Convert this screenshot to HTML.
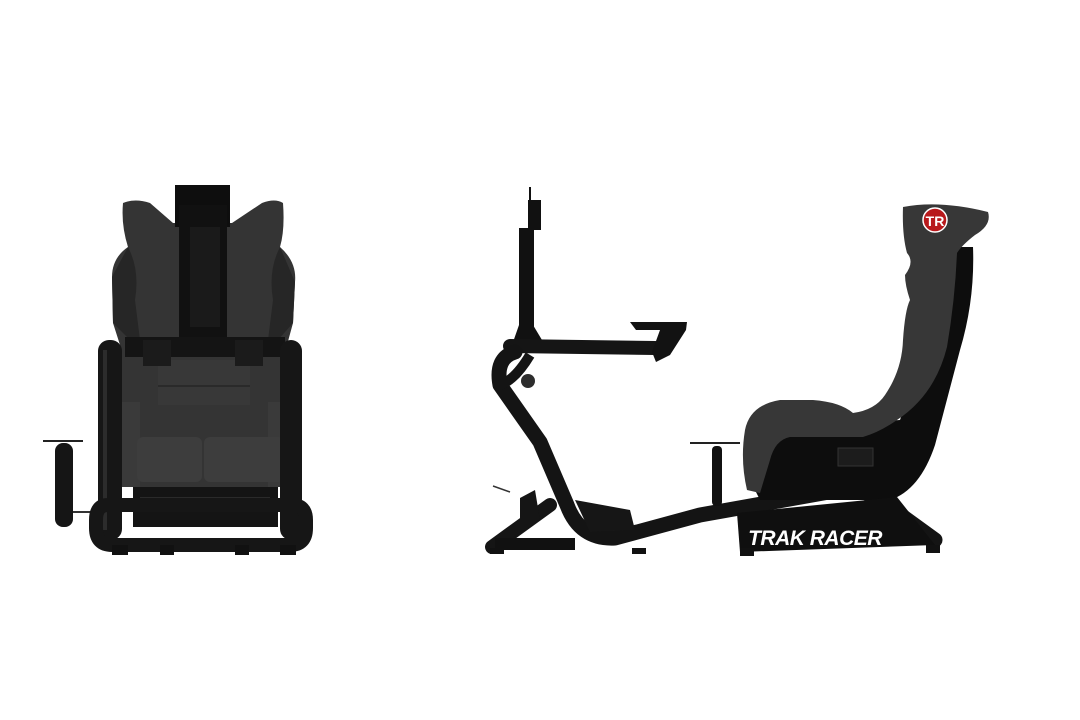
<!DOCTYPE html>
<html><head><meta charset="utf-8"><style>
html,body{margin:0;padding:0;background:#fff;width:1080px;height:720px;overflow:hidden}
svg{display:block}
</style></head><body>
<svg width="1080" height="720" viewBox="0 0 1080 720" xmlns="http://www.w3.org/2000/svg">
<!-- FRONT VIEW -->
<rect x="43" y="440" width="40" height="2" fill="#222"/>
<rect x="55" y="443" width="18" height="84" rx="8" fill="#151515"/>
<rect x="73" y="511" width="30" height="2" fill="#333"/>
<path d="M123,203 Q135,198 150,203 L173,223 L232,223 L262,203 Q275,198 283,203 Q285,230 280,247 Q297,262 295,282 L293,323 L287,345 L287,487 L120,487 L120,345 L113,323 L112,277 Q112,258 128,247 Q121,225 123,203 Z" fill="#343434"/>
<path d="M128,247 Q140,270 135,300 L140,340 L130,340 L113,323 L112,277 Z" fill="#262626"/>
<path d="M280,247 Q268,270 273,300 L268,340 L278,340 L293,323 L295,282 Z" fill="#262626"/>
<rect x="158" y="360" width="92" height="45" fill="#383838"/>
<rect x="158" y="385" width="92" height="2" fill="#2a2a2a"/>
<rect x="120" y="402" width="20" height="85" fill="#3a3a3a"/>
<rect x="268" y="402" width="19" height="85" fill="#3a3a3a"/>
<rect x="137" y="437" width="65" height="45" rx="6" fill="#3d3d3d"/>
<rect x="204" y="437" width="81" height="45" rx="6" fill="#3d3d3d"/>
<rect x="175" y="185" width="55" height="42" fill="#0e0e0e"/>
<rect x="179" y="205" width="48" height="132" fill="#111"/>
<rect x="190" y="227" width="30" height="100" fill="#1a1a1a"/>
<rect x="125" y="337" width="160" height="20" fill="#141414"/>
<rect x="143" y="340" width="28" height="26" fill="#1b1b1b"/>
<rect x="235" y="340" width="28" height="26" fill="#1b1b1b"/>
<rect x="133" y="487" width="145" height="40" fill="#141414"/>
<rect x="140" y="497" width="130" height="3" fill="#2a2a2a"/>
<rect x="98" y="340" width="24" height="200" rx="11" fill="#161616"/>
<rect x="103" y="350" width="4" height="180" fill="#2c2c2c"/>
<rect x="280" y="340" width="22" height="200" rx="11" fill="#161616"/>
<path d="M108,505 L292,505 Q306,505 306,520 L306,528 Q306,545 290,545 L112,545 Q96,545 96,528 L96,520 Q96,505 108,505 Z" fill="none" stroke="#161616" stroke-width="14"/>
<rect x="112" y="545" width="16" height="10" fill="#111"/>
<rect x="160" y="545" width="14" height="10" fill="#111"/>
<rect x="235" y="545" width="14" height="10" fill="#111"/>
<rect x="280" y="545" width="16" height="10" fill="#111"/>

<!-- SIDE VIEW -->
<rect x="529" y="187" width="2" height="20" fill="#111"/>
<rect x="528" y="200" width="13" height="30" fill="#111"/>
<rect x="519" y="228" width="15" height="115" fill="#111"/>
<path d="M519,325 L533,325 L545,345 L512,345 Z" fill="#111"/>
<path d="M510,346 L655,348" stroke="#151515" stroke-width="14" stroke-linecap="round" fill="none"/>
<path d="M630,322 L687,322 L686,330 L670,355 L656,362 L652,352 L660,330 L636,330 Z" fill="#121212"/>
<path d="M515,352 Q495,358 500,385 L540,442 L567,505 Q580,540 615,538 L700,515 L840,490 Q860,487 880,500 L935,540" stroke="#141414" stroke-width="15" stroke-linecap="round" stroke-linejoin="round" fill="none"/>
<path d="M500,385 Q515,380 530,355" stroke="#141414" stroke-width="10" fill="none"/>
<circle cx="528" cy="381" r="7" fill="#2d2d2d"/>
<path d="M492,547 L550,505" stroke="#151515" stroke-width="14" stroke-linecap="round"/>
<rect x="495" y="538" width="80" height="12" fill="#111"/>
<path d="M520,498 L535,490 L540,520 L520,520 Z" fill="#151515"/>
<path d="M575,500 L630,510 L635,530 L590,532 Z" fill="#161616"/>
<line x1="493" y1="486" x2="510" y2="492" stroke="#333" stroke-width="1.5"/>
<rect x="490" y="548" width="14" height="6" fill="#111"/>
<rect x="632" y="548" width="14" height="6" fill="#111"/>
<rect x="690" y="442" width="50" height="2" fill="#222"/>
<rect x="712" y="446" width="10" height="60" rx="4" fill="#111"/>
<path d="M958,247 L973,247 Q975,300 960,350 L935,445 Q920,490 890,500 L760,500 L745,470 L760,430 L900,420 Z" fill="#0d0d0d"/>
<path d="M903,207 Q940,200 988,212 Q992,225 975,235 Q962,245 957,253 Q955,300 947,347 Q935,395 897,420 Q880,432 863,437 L790,437 Q775,440 770,460 L760,493 L747,490 Q740,460 745,430 Q750,405 780,400 L813,400 Q840,402 853,413 Q875,410 885,395 Q902,370 903,340 Q905,310 910,300 Q905,285 905,275 Q915,262 907,253 Q902,235 903,207 Z" fill="#373737"/>
<rect x="838" y="448" width="35" height="18" fill="#1c1c1c" stroke="#333" stroke-width="1"/>
<circle cx="935" cy="220" r="12" fill="#b8191c" stroke="#fff" stroke-width="1.5"/>
<text x="935" y="226" font-family="Liberation Sans, sans-serif" font-size="14" font-weight="bold" fill="#fff" text-anchor="middle">TR</text>
<path d="M737,513 L897,497 L935,545 L740,552 Z" fill="#0f0f0f"/>
<text x="815" y="545" font-family="Liberation Sans, sans-serif" font-size="21" font-weight="bold" font-style="italic" fill="#fff" text-anchor="middle" letter-spacing="-0.5">TRAK RACER</text>
<rect x="740" y="548" width="14" height="8" fill="#111"/>
<rect x="926" y="545" width="14" height="8" fill="#111"/>
</svg>
</body></html>
